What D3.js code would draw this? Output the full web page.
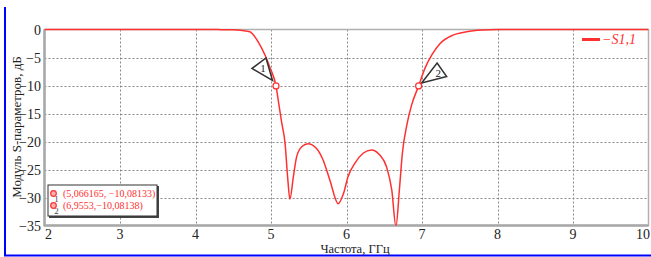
<!DOCTYPE html>
<html>
<head>
<meta charset="utf-8">
<script src="https://cdn.jsdelivr.net/npm/d3@7"></script>
<style>
  body { margin: 0; background: #fff; }
  svg { display: block; }
  svg text { font-family: "Liberation Serif", "DejaVu Serif", serif; }
</style>
</head>
<body>
<svg id="chart"></svg>
<script>
const W = 651;
const H = 257;

// S11 curve
const freq = [2, 3, 4, 4.3, 4.5, 4.62, 4.72, 4.83, 4.92, 4.99, 5.066, 5.1, 5.14, 5.186, 5.22, 5.25,
  5.296, 5.34, 5.41, 5.49, 5.6, 5.69, 5.78, 5.89, 5.96, 6.02, 6.11, 6.22, 6.33, 6.44, 6.53, 6.6,
  6.655, 6.7, 6.74, 6.8, 6.86, 6.955, 7.04, 7.13, 7.24, 7.41, 7.59, 7.81, 8.0, 9, 10];
const s11 = [0, 0, 0, -0.02, -0.06, -0.18, -0.4, -2.2, -4.55, -6.9, -10.08, -13.0, -16.5, -20.3, -26.3, -30.3,
  -26.3, -22.7, -20.9, -20.4, -21.2, -23.3, -26.9, -31.1, -29.3, -26.3, -23.9, -22.1, -21.5, -22.4, -24.5, -28.7,
  -35.2, -28.7, -22.1, -17, -13.6, -10.08, -6.9, -4.55, -2.5, -1.0, -0.4, -0.1, -0.02, 0, 0];

const xTicks = [2, 3, 4, 5, 6, 7, 8, 9, 10];
const yTicks = [0, -5, -10, -15, -20, -25, -30, -35];

const markerX = [5.066165, 6.9553];
const markerY = [-10.08133, -10.08138];
const markerText = ["(5,066165, \u221210,08133)", "(6,9553,\u221210,08138)"];

const red = "#ff3030";
const svg = d3.select("#chart").attr("width", W).attr("height", H);

const x = d3.scaleLinear().domain([2, 10]).range([44.5, 648.5]);
const y = d3.scaleLinear().domain([0, -35]).range([29.5, 225.5]);

// blue outer frame (left + bottom)
svg.append("line").attr("x1", 5).attr("x2", 5).attr("y1", 7).attr("y2", 256)
  .attr("stroke", "#0000ff").attr("stroke-width", 2);
svg.append("line").attr("x1", 4).attr("x2", W).attr("y1", 255.5).attr("y2", 255.5)
  .attr("stroke", "#0000ff").attr("stroke-width", 2);

// grid
const g = svg.append("g");
g.selectAll(".vg").data(xTicks.slice(1, -1)).join("line")
  .attr("x1", d => Math.round(x(d)) + 0.5).attr("x2", d => Math.round(x(d)) + 0.5)
  .attr("y1", y(0)).attr("y2", y(-35))
  .attr("stroke", "#888").attr("stroke-dasharray", "2,2");
g.selectAll(".hg").data(yTicks.slice(1, -1)).join("line")
  .attr("x1", x(2)).attr("x2", x(10))
  .attr("y1", d => Math.round(y(d)) + 0.5).attr("y2", d => Math.round(y(d)) + 0.5)
  .attr("stroke", "#888").attr("stroke-dasharray", "2,2");

// plot frame
g.append("rect").attr("x", x(2)).attr("y", y(0))
  .attr("width", x(10) - x(2)).attr("height", y(-35) - y(0))
  .attr("fill", "none").attr("stroke", "#b0b0b0").attr("stroke-width", 1.5);
g.append("line").attr("x1", x(2)).attr("x2", x(2)).attr("y1", y(0)).attr("y2", y(-35) + 1)
  .attr("stroke", "#a8a8a8").attr("stroke-width", 2.5);
g.append("line").attr("x1", x(2)).attr("x2", x(10)).attr("y1", y(-35)).attr("y2", y(-35))
  .attr("stroke", "#a8a8a8").attr("stroke-width", 2.5);

// tick labels
svg.selectAll(".xl").data(xTicks).join("text")
  .attr("x", d => d === 2 ? x(d) + 4 : (d === 10 ? 650 : x(d)))
  .attr("y", 239)
  .attr("text-anchor", d => d === 10 ? "end" : "middle")
  .attr("font-size", 14).attr("fill", "#222")
  .text(d => d);
svg.selectAll(".yl").data(yTicks).join("text")
  .attr("x", 41).attr("y", d => y(d) + 5).attr("text-anchor", "end")
  .attr("font-size", 14).attr("fill", "#222")
  .text(d => d === 0 ? "0" : "\u2212" + Math.abs(d));

// axis titles
svg.append("text").attr("x", 355).attr("y", 253).attr("text-anchor", "middle")
  .attr("font-size", 12.5).attr("fill", "#222").text("Частота, ГГц");
svg.append("text").attr("transform", "translate(21,127) rotate(-90)")
  .attr("text-anchor", "middle").attr("font-size", 13).attr("fill", "#222")
  .text("Модуль S-параметров, дБ");

// curve
const pts = freq.map((f, i) => [f, s11[i]]);
svg.append("clipPath").attr("id", "clip").append("rect")
  .attr("x", x(2)).attr("y", y(0) - 2).attr("width", x(10) - x(2)).attr("height", y(-35) - y(0) + 2);
svg.append("path").datum(pts)
  .attr("clip-path", "url(#clip)")
  .attr("fill", "none").attr("stroke", red).attr("stroke-width", 1.5)
  .attr("d", d3.line().x(d => x(d[0])).y(d => y(d[1])).curve(d3.curveMonotoneX));

// legend
svg.append("line").attr("x1", 582).attr("x2", 600).attr("y1", 39.5).attr("y2", 39.5)
  .attr("stroke", red).attr("stroke-width", 3);
svg.append("text").attr("x", 602).attr("y", 44).attr("font-size", 14).attr("fill", red)
  .attr("font-style", "italic").text("\u2212S1,1");

// markers on curve
const callouts = [
  { tri: [[-24, -17.5], [-10, -28], [-3.5, -5.5]], num: [-13, -17.5] },
  { tri: [[3, -3], [18.5, -23], [28, -9.5]], num: [19.5, -12.5] }
];
markerX.forEach((mx, i) => {
  const px = x(mx), py = y(markerY[i]);
  const c = callouts[i];
  svg.append("polygon")
    .attr("points", c.tri.map(p => [px + p[0], py + p[1]].join(",")).join(" "))
    .attr("fill", "#fff").attr("stroke", "#333").attr("stroke-width", 1.5)
    .attr("stroke-linejoin", "miter");
  svg.append("text").attr("x", px + c.num[0]).attr("y", py + c.num[1] + 4)
    .attr("text-anchor", "middle").attr("font-size", 11).attr("fill", "#222").text(i + 1);
  svg.append("circle").attr("cx", px).attr("cy", py).attr("r", 3)
    .attr("fill", "#fff").attr("stroke", red).attr("stroke-width", 1.2);
});

// marker table box
const box = svg.append("g");
box.append("rect").attr("x", 49).attr("y", 186).attr("width", 110).attr("height", 32)
  .attr("fill", "#444");
box.append("rect").attr("x", 48).attr("y", 185).attr("width", 109).attr("height", 31)
  .attr("fill", "#fff").attr("stroke", "#333").attr("stroke-width", 1);
markerText.forEach((t, i) => {
  const cy = 193.5 + i * 12;
  box.append("circle").attr("cx", 53.5).attr("cy", cy).attr("r", 2.8)
    .attr("fill", "#ffb0b0").attr("stroke", red).attr("stroke-width", 1.2);
  box.append("text").attr("x", 56.5).attr("y", cy + 8).attr("text-anchor", "middle")
    .attr("font-size", 9).attr("fill", "#444").text(i + 1);
  box.append("text").attr("x", 63).attr("y", cy + 3.5).attr("font-size", 10)
    .attr("fill", red).text(t);
});
</script>
</body>
</html>
